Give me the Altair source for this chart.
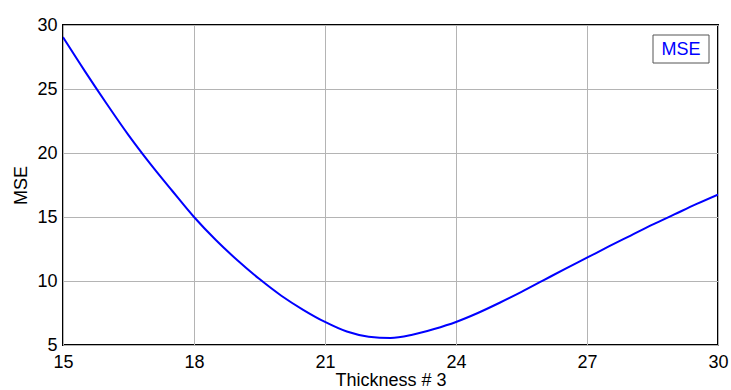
import altair as alt
import pandas as pd

thickness = [15, 15.5, 16, 16.5, 17, 17.5, 18, 18.5, 19, 19.5, 20, 20.5, 21, 21.5, 22,
             22.5, 23, 23.5, 24, 24.5, 25, 25.5, 26, 26.5, 27, 27.5, 28, 28.5, 29, 29.5, 30]
mse = [29.05, 26.4, 23.85, 21.4, 19.15, 17.05, 15.0, 13.2, 11.6, 10.15, 8.85, 7.75, 6.8,
       6.05, 5.65, 5.55, 5.8, 6.25, 6.8, 7.5, 8.3, 9.15, 10.05, 10.95, 11.82, 12.7, 13.55,
       14.4, 15.2, 16.0, 16.75]
series_name = "MSE"

df = pd.DataFrame({"t": thickness, "mse": mse, "series": [series_name] * len(thickness)})
legend_df = pd.DataFrame({"series": [series_name]})

FONT = "Liberation Sans"
BLUE = "#0000ff"

line = alt.Chart(df).mark_line(strokeWidth=2, clip=True, interpolate="monotone",
                               color=BLUE).encode(
    x=alt.X("t:Q", scale=alt.Scale(domain=[15, 30], nice=False),
            axis=alt.Axis(values=[15, 18, 21, 24, 27, 30], title="Thickness # 3",
                          tickSize=0, labelPadding=8, titlePadding=0, labelFlush=False)),
    y=alt.Y("mse:Q", scale=alt.Scale(domain=[5, 30], nice=False),
            axis=alt.Axis(values=[5, 10, 15, 20, 25, 30], title="MSE",
                          tickSize=0, labelPadding=6, titlePadding=6, labelFlush=False)),
)

legend_box = alt.Chart(legend_df).mark_rect(
    fill="white", stroke="#555555", strokeWidth=1
).encode(
    x=alt.value(590), x2=alt.value(646), y=alt.value(10), y2=alt.value(38)
)

legend_text = alt.Chart(legend_df).mark_text(
    font=FONT, fontSize=18, color=BLUE, align="center", baseline="middle"
).encode(
    text="series:N", x=alt.value(618), y=alt.value(24.5)
)

chart = alt.layer(line, legend_box, legend_text).properties(
    width=655, height=320,
    background="white",
    autosize=alt.AutoSizeParams(type="none"),
    padding={"left": 63, "top": 25, "right": 13, "bottom": 45},
).configure_view(
    stroke="black", strokeWidth=2
).configure_axis(
    domain=False, grid=True, gridColor="#b4b4b4", gridWidth=1,
    labelFont=FONT, labelFontSize=18, labelColor="black",
    titleFont=FONT, titleFontSize=18, titleColor="black", titleFontWeight="normal",
)

chart.save("out.html", embed_options={"renderer": "svg", "actions": False})
